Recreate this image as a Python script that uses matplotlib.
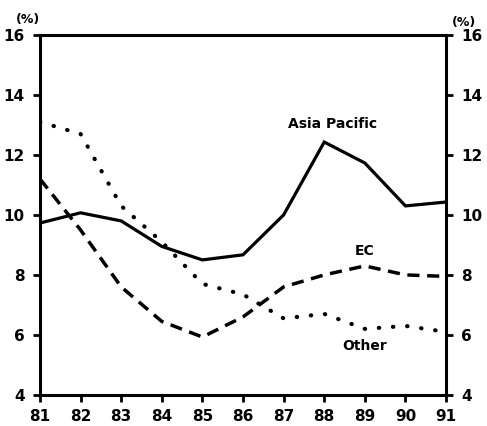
import matplotlib
matplotlib.use("Agg")
import matplotlib.pyplot as plt

# values (percent)
years = [81, 82, 83, 84, 85, 86, 87, 88, 89, 90, 91]
asia_pacific = [9.73, 10.07, 9.8, 8.95, 8.5, 8.67, 10.0, 12.43, 11.73, 10.3, 10.43]
ec = [11.2, 9.5, 7.6, 6.45, 5.93, 6.6, 7.6, 8.0, 8.3, 8.0, 7.95]
other = [13.1, 12.7, 10.3, 9.1, 7.7, 7.35, 6.55, 6.7, 6.2, 6.3, 6.1]
yticks = [4, 6, 8, 10, 12, 14, 16]

plt.rcParams['font.family'] = ['DejaVu Sans']
plt.rcParams['font.weight'] = 'bold'

fig = plt.figure(figsize=(4.87, 4.26), dpi=100)
ax = fig.add_axes([0.082, 0.073, 0.834, 0.845])

ax.plot(years, asia_pacific, color='black', lw=2.3, solid_joinstyle='miter')
ax.plot(years, ec, color='black', lw=2.5, linestyle=(0, (3.5, 2.2)))
ax.plot(years, other, color='black', lw=3, linestyle=(0, (0.1, 3.3)),
        dash_capstyle='round')

ax.set_xlim(81, 91)
ax.set_ylim(4, 16)
ax.set_xticks(years)
ax.set_yticks(yticks)

for s in ax.spines.values():
    s.set_linewidth(2.2)

ax.tick_params(axis='both', direction='out', length=5, width=2, labelsize=11)
ax.tick_params(axis='y', right=True, labelright=True, pad=6)
ax.tick_params(axis='x', pad=5)

ax.text(88.2, 12.8, 'Asia Pacific', fontsize=10, ha='center', va='bottom')
ax.text(89, 8.55, 'EC', fontsize=10, ha='center', va='bottom')
ax.text(89, 5.85, 'Other', fontsize=10, ha='center', va='top')

fig.text(0.058, 0.955, '(%)', fontsize=9, ha='center', va='center')
fig.text(0.953, 0.948, '(%)', fontsize=9, ha='center', va='center')

fig.savefig('out.png', dpi=100)
